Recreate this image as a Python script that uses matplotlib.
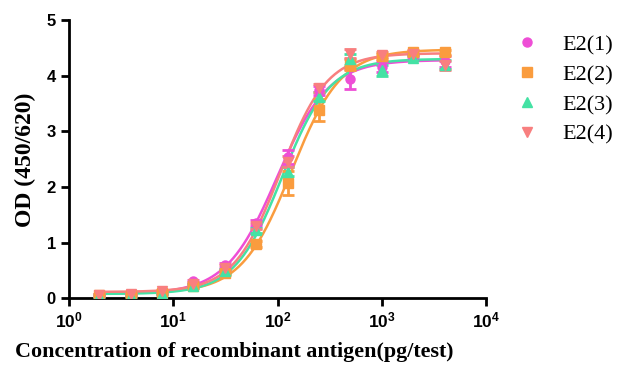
import numpy as np
import matplotlib
matplotlib.use("Agg")
import matplotlib.pyplot as plt
from matplotlib.ticker import FixedLocator, NullLocator

# concentrations (pg/test)
conc = [1.95, 3.9, 7.8, 15.6, 31.25, 62.5, 125, 250, 500, 1000, 2000, 4000]

# mean OD values per sample
e2_1 = [0.05, 0.07, 0.10, 0.30, 0.59, 1.35, 2.54, 3.74, 3.95, 4.16, 4.35, 4.26]
e2_2 = [0.05, 0.06, 0.10, 0.22, 0.45, 0.97, 2.07, 3.38, 4.20, 4.35, 4.42, 4.42]
e2_3 = [0.03, 0.04, 0.08, 0.22, 0.48, 1.22, 2.27, 3.62, 4.30, 4.10, 4.32, 4.20]
e2_4 = [0.05, 0.08, 0.12, 0.26, 0.55, 1.30, 2.45, 3.78, 4.40, 4.38, 4.40, 4.19]

# standard deviations
sd_1 = [0.02, 0.02, 0.02, 0.03, 0.04, 0.05, 0.12, 0.08, 0.18, 0.10, 0.05, 0.10]
sd_2 = [0.02, 0.02, 0.02, 0.03, 0.04, 0.05, 0.22, 0.20, 0.10, 0.05, 0.04, 0.05]
sd_3 = [0.02, 0.02, 0.02, 0.03, 0.04, 0.05, 0.08, 0.08, 0.10, 0.10, 0.04, 0.08]
sd_4 = [0.02, 0.02, 0.02, 0.03, 0.04, 0.05, 0.10, 0.08, 0.08, 0.05, 0.04, 0.08]

labels = ["E2(1)", "E2(2)", "E2(3)", "E2(4)"]
colors = ["#EE4ED6", "#FA9C3E", "#44E2A4", "#F87F7F"]
markers = ["o", "s", "^", "v"]


def four_pl(logx, p):
    bottom, top, logec50, hill = p
    return bottom + (top - bottom) / (1 + 10 ** ((logec50 - logx) * hill))


def fit_4pl(x, y):
    """Small Levenberg-Marquardt fit of a 4PL curve in log-x."""
    logx = np.log10(x)
    y = np.asarray(y, float)
    p = np.array([y.min(), y.max(), 2.1, 1.2])
    lam = 1e-2
    for _ in range(300):
        r = y - four_pl(logx, p)
        J = np.empty((len(x), 4))
        for k in range(4):
            dp = np.zeros(4)
            dp[k] = 1e-6 * max(1.0, abs(p[k]))
            J[:, k] = (four_pl(logx, p + dp) - four_pl(logx, p)) / dp[k]
        A = J.T @ J
        g = J.T @ r
        step = np.linalg.solve(A + lam * np.diag(np.diag(A)), g)
        new = p + step
        if np.sum((y - four_pl(logx, new)) ** 2) < np.sum(r ** 2):
            p = new
            lam *= 0.3
        else:
            lam *= 10
    return p


plt.rcParams["mathtext.fontset"] = "custom"
plt.rcParams["mathtext.bf"] = "Liberation Sans:bold"
plt.rcParams["mathtext.rm"] = "Liberation Sans:bold"

fig = plt.figure(figsize=(6.18, 3.68), dpi=100)
ax = fig.add_axes([0.1117, 0.19, 0.675, 0.755])

xs = np.logspace(np.log10(conc[0]), np.log10(conc[-1]), 300)
series = [(e2_1, sd_1), (e2_2, sd_2), (e2_3, sd_3), (e2_4, sd_4)]
for (vals, sds), lab, c, m in zip(series, labels, colors, markers):
    p = fit_4pl(conc, vals)
    ax.plot(xs, four_pl(np.log10(xs), p), color=c, lw=1.8, zorder=2)
    ax.errorbar(conc, vals, yerr=sds, fmt=m, color=c, ms=6.5, elinewidth=2,
                capsize=4, capthick=2, label=lab, zorder=3)

ax.set_xscale("log")
ax.set_xlim(1, 1e4)
ax.set_ylim(0, 5)
ax.xaxis.set_major_locator(FixedLocator([1, 10, 100, 1000, 10000]))
ax.xaxis.set_minor_locator(NullLocator())
ax.set_yticks([0, 1, 2, 3, 4, 5])

for s in ["top", "right"]:
    ax.spines[s].set_visible(False)
for s in ["left", "bottom"]:
    ax.spines[s].set_linewidth(2)
ax.tick_params(axis="both", which="major", length=6, width=2, direction="out")

tick_font = dict(family="Liberation Sans", weight="bold", size=12)
ax.set_xticklabels([r"$\mathbf{10^{%d}}$" % i for i in range(5)], fontsize=12.5)
ax.set_yticklabels([str(v) for v in range(6)], **tick_font)

label_font = dict(family="Liberation Serif", weight="bold")
fig.text(234 / 618, 1 - 352 / 368, "Concentration of recombinant antigen(pg/test)",
         ha="center", va="center", size=15.8, **label_font)
fig.text(25 / 618, 1 - 160 / 368, "OD (450/620)", rotation=90,
         ha="center", va="center", size=17, **label_font)

handles, labs = ax.get_legend_handles_labels()
handles = [h[0] for h in handles]
ax.legend(handles, labs, loc="upper left", bbox_to_anchor=(1.01, 1.02), frameon=False,
          prop=dict(family="Liberation Serif", size=16), handletextpad=0.85,
          labelspacing=0.42, handlelength=1.5)

fig.savefig("out.png", dpi=100)
